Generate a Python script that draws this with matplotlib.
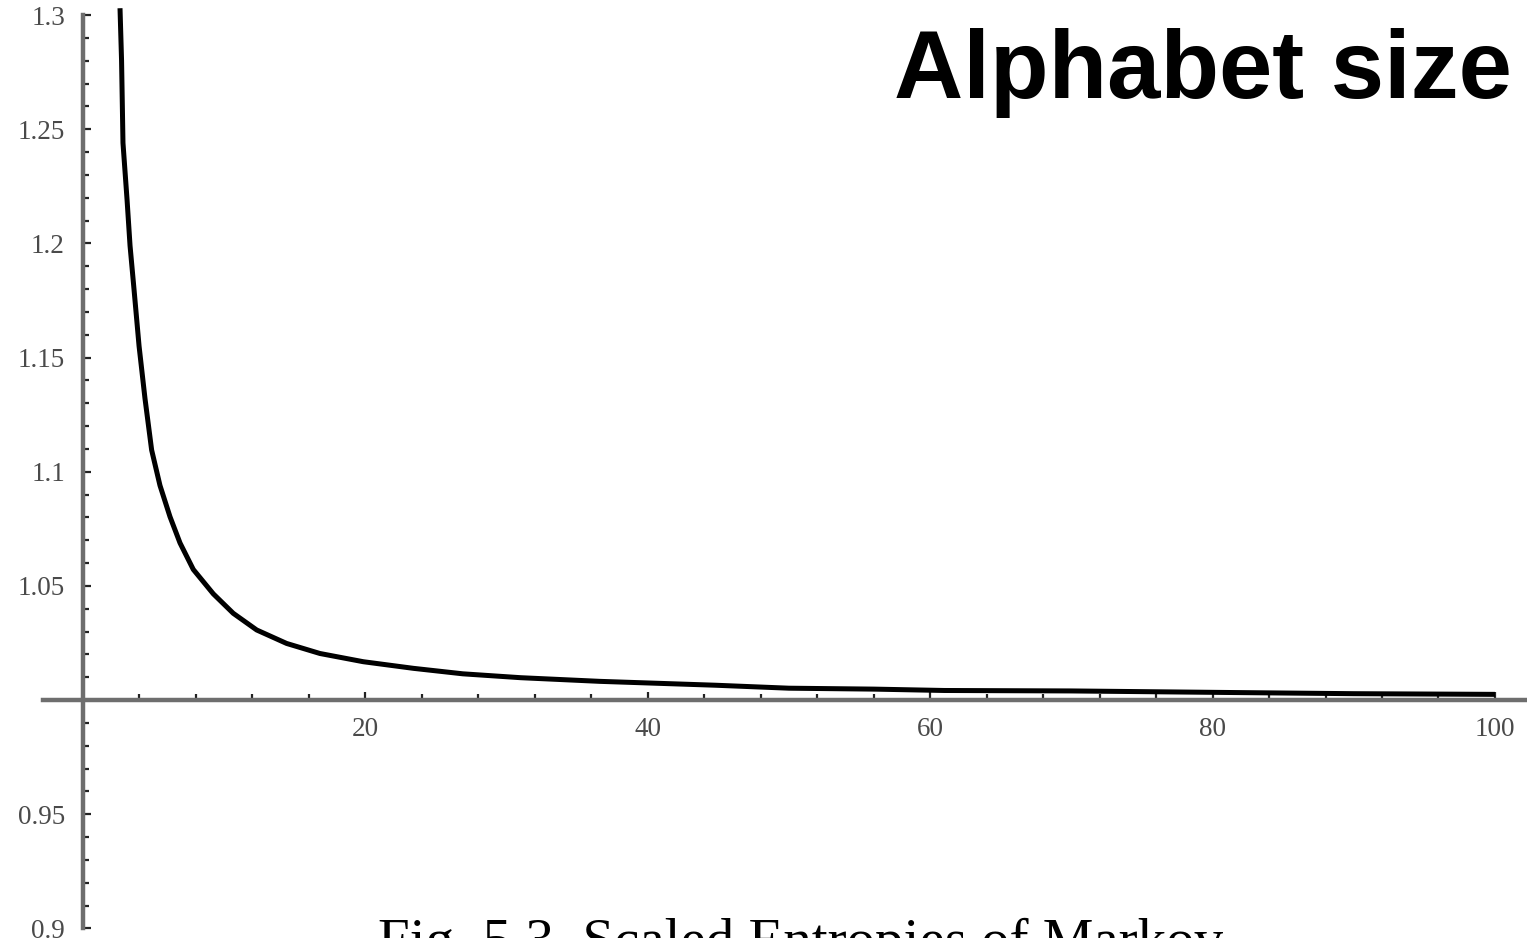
import numpy as np
import matplotlib
matplotlib.use("Agg")
import matplotlib.pyplot as plt
from matplotlib.ticker import FixedLocator, FixedFormatter

# curve (alphabet size vs ratio)
alphabet_size = [2.62, 2.73, 2.83, 3.12, 3.33, 3.61, 3.97, 4.39, 4.86, 5.45,
                 6.16, 6.87, 7.81, 9.23, 10.64, 12.30, 14.42, 16.78, 19.85, 23.4,
                 26.9, 31.0, 36.6, 44.8, 50.0, 56.0, 61.0, 70.0, 81.5, 90.0, 100.0]
ratio = [1.303, 1.280, 1.244, 1.219, 1.199, 1.180, 1.155, 1.132, 1.1095, 1.094,
         1.0803, 1.0688, 1.0572, 1.0465, 1.0380, 1.0307, 1.0248, 1.0204, 1.0168, 1.0139,
         1.0115, 1.0098, 1.0082, 1.0065, 1.0052, 1.0048, 1.0042, 1.0040, 1.0033, 1.0028, 1.0025]

y_ticks = [0.9, 0.95, 1.05, 1.1, 1.15, 1.2, 1.25, 1.3]
y_tick_labels = ["0.9", "0.95", "1.05", "1.1", "1.15", "1.2", "1.25", "1.3"]
x_ticks = [20, 40, 60, 80, 100]
x_tick_labels = ["20", "40", "60", "80", "100"]

title = "Alphabet size"
caption = "Fig. 5.3  Scaled Entropies of Markov"

fig = plt.figure(figsize=(15.27, 9.38), dpi=100)
ax = fig.add_axes([0, 0, 1, 1])
ax.set_facecolor("none")

ax.plot(alphabet_size, ratio, color="black", lw=3.6, zorder=3,
        solid_joinstyle="round", solid_capstyle="butt")

ax.set_xlim(-5.88, 102.27)
ax.set_ylim(0.8958, 1.3066)

# Mathematica style axes crossing at (0, 1)
axis_col = "#6e6e6e"
for s in ["top", "right"]:
    ax.spines[s].set_visible(False)
ax.spines["left"].set_position(("data", 0))
ax.spines["bottom"].set_position(("data", 1.0))
ax.spines["left"].set_bounds(0.9, 1.3)
ax.spines["bottom"].set_bounds(-2.83, 102.27)
for s in ["left", "bottom"]:
    ax.spines[s].set_color(axis_col)
    ax.spines[s].set_linewidth(3.2)

ax.yaxis.set_major_locator(FixedLocator(y_ticks))
ax.yaxis.set_major_formatter(FixedFormatter(y_tick_labels))
ax.yaxis.set_minor_locator(FixedLocator(np.arange(0.9, 1.3001, 0.01)))
ax.xaxis.set_major_locator(FixedLocator(x_ticks))
ax.xaxis.set_major_formatter(FixedFormatter(x_tick_labels))
ax.xaxis.set_minor_locator(FixedLocator(np.arange(4, 100.1, 4)))

ax.tick_params(axis="both", which="both", direction="in", color="#222222")
ax.tick_params(axis="both", which="major", length=6, width=1.6)
ax.tick_params(axis="both", which="minor", length=4, width=1.6)
ax.tick_params(axis="y", which="major", pad=13)
ax.tick_params(axis="x", which="major", pad=12)

for lab in ax.get_xticklabels() + ax.get_yticklabels():
    lab.set_fontfamily("Liberation Serif")
    lab.set_fontsize(19.5)
    lab.set_color("#4a4a4a")

fig.text(1512 / 1527, 1 - 98 / 938, title, ha="right", va="baseline",
         fontfamily="Liberation Sans", fontweight="bold", fontsize=69, color="black")

# caption is cut off by the bottom edge in the original
fig.text(378 / 1527, -20 / 938, caption, ha="left", va="baseline",
         fontfamily="Liberation Serif", fontsize=41, color="black")

fig.savefig("out.png", dpi=100)
